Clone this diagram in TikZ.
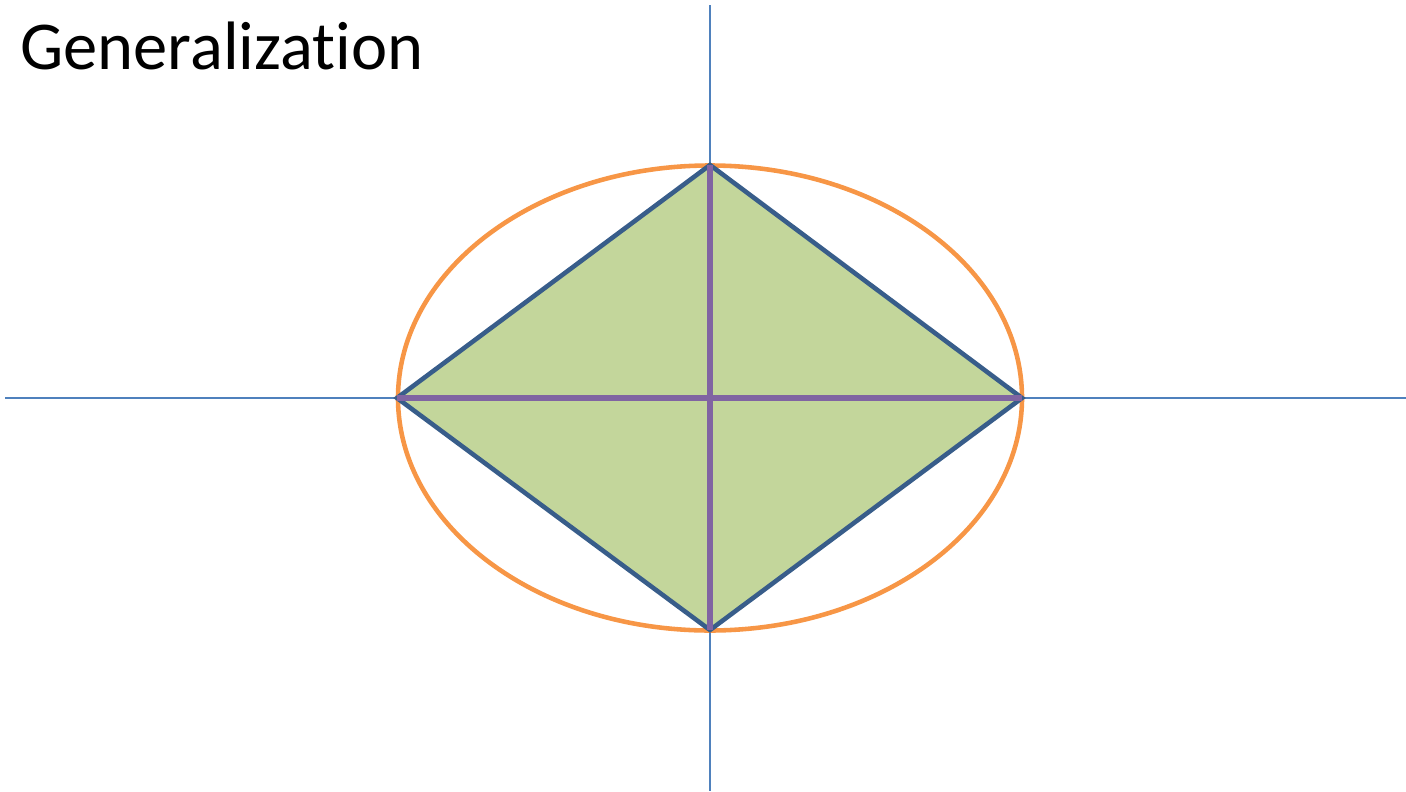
\documentclass[tikz,border=0pt]{standalone}
\usepackage{fontspec}
\setmainfont[Ligatures=NoCommon]{Carlito}
\definecolor{axisblue}{HTML}{4F81BD}
\definecolor{rimorange}{HTML}{F79646}
\definecolor{edgeblue}{HTML}{385D8A}
\definecolor{leafgreen}{HTML}{C3D69B}
\definecolor{diagpurple}{HTML}{8064A2}
\begin{document}
\begin{tikzpicture}[x=0.02cm,y=-0.02cm]
\useasboundingbox(0,0)rectangle(1406,791);
\coordinate(o)at(710,398);
\coordinate(t)at(710,165);\coordinate(r)at(1022,398);
\coordinate(b)at(710,630);\coordinate(l)at(397,398);
\draw[axisblue,line width=1.1pt](5,398)--(1406,398);
\draw[axisblue,line width=1.1pt](710,5)--(710,791);
\draw[rimorange,line width=2.6pt](o)ellipse[x radius=312,y radius=232.5];
\draw[edgeblue,fill=leafgreen,line width=2.6pt,line join=miter](t)--(r)--(b)--(l)--cycle;
\draw[diagpurple,line width=3.1pt](l)--(r);\draw[diagpurple,line width=3.1pt](t)--(b);
\node[anchor=base west,inner sep=0pt,font=\fontsize{39}{47}\selectfont](g)at(20,69){Generalization};
\end{tikzpicture}
\end{document}
